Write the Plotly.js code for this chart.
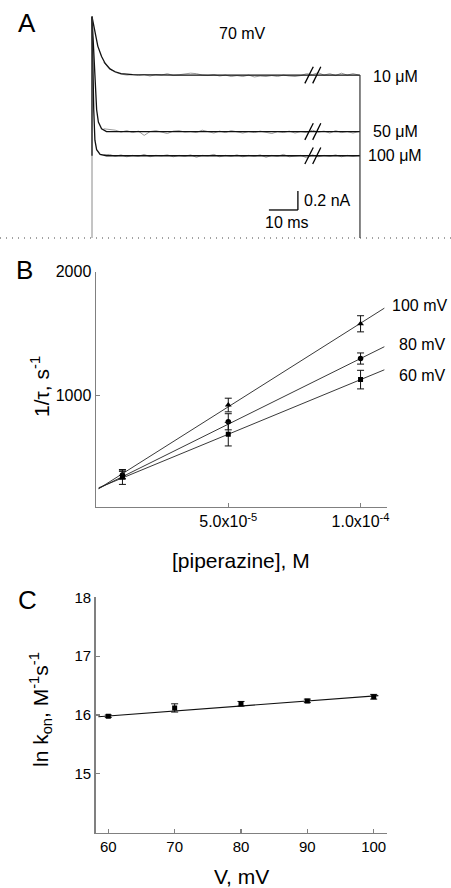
<!DOCTYPE html>
<html>
<head>
<meta charset="utf-8">
<script src="https://cdn.plot.ly/plotly-3.0.1.min.js"></script>
<style>html,body{margin:0;padding:0;background:#fff;}#chart{width:451px;height:888px;}</style>
</head>
<body>
<div id="chart"></div>
<script>
// ---------- Panel A: current traces at 70 mV (time in ms, offset current in nA) ----------
const concLabels = ["10 μM", "50 μM", "100 μM"];
const fitT10 = [0, 1, 2, 3.3, 4.5, 6.2, 8, 10, 14, 30, 60, 92.4];
const fitI10 = [2.33, 2.19, 2.02, 1.91, 1.84, 1.78, 1.75, 1.73, 1.72, 1.715, 1.715, 1.715];
const fitT50 = [0, 0.45, 1.0, 1.6, 2.2, 3.3, 5, 10, 92.4];
const fitI50 = [2.33, 2.05, 1.59, 1.35, 1.22, 1.15, 1.12, 1.12, 1.12];
const fitT100 = [0, 0.35, 0.6, 1.0, 1.6, 2.8, 5, 92.4];
const fitI100 = [2.33, 1.70, 1.35, 1.03, 0.93, 0.88, 0.866, 0.866];
const rawT = [4,6,8,10,12,14,16,18,20,22,24,26,28,30,32,34,36,38,40,42,44,46,48,50,52,54,56,58,60,62,64,66,68,70,72,74,76,78,80,82,84,86,88,90,92];
const raw10 = [1.85,1.78,1.745,1.725,1.715,1.72,1.71,1.72,1.705,1.72,1.715,1.73,1.71,1.72,1.725,1.735,1.73,1.715,1.71,1.72,1.705,1.715,1.70,1.71,1.70,1.715,1.695,1.705,1.70,1.71,1.70,1.715,1.705,1.70,1.71,1.73,1.72,1.74,1.715,1.73,1.71,1.735,1.715,1.73,1.715];
const raw50 = [1.15,1.14,1.135,1.115,1.13,1.11,1.125,1.08,1.12,1.13,1.115,1.10,1.125,1.13,1.115,1.12,1.11,1.135,1.12,1.105,1.125,1.11,1.13,1.115,1.105,1.12,1.11,1.125,1.115,1.10,1.12,1.11,1.125,1.105,1.12,1.11,1.135,1.115,1.125,1.105,1.13,1.11,1.12,1.105,1.12];
const raw100 = [0.875,0.88,0.86,0.875,0.855,0.87,0.86,0.88,0.855,0.87,0.865,0.875,0.855,0.87,0.86,0.875,0.85,0.87,0.865,0.88,0.855,0.87,0.86,0.875,0.855,0.87,0.86,0.875,0.85,0.87,0.86,0.88,0.855,0.865,0.87,0.845,0.875,0.855,0.87,0.86,0.875,0.855,0.87,0.86,0.87];
const pulseT = [0, 92.4];          // start and end of the pulse, ms
const scaleBarT = [61, 71];        // 10 ms
const scaleBarI = [0.295, 0.495];  // 0.2 nA

// ---------- Panel B: 1/tau vs [piperazine] ----------
const pipConc = [1e-5, 5e-5, 1e-4];
const voltLabelsB = ["100 mV", "80 mV", "60 mV"];
const rate100 = [365, 925, 1580];
const err100 = [35, 55, 65];
const rate80 = [360, 790, 1300];
const err80 = [30, 65, 45];
const rate60 = [345, 690, 1130];
const err60 = [60, 95, 75];
const fitConc = [1e-6, 1.09e-4];
const fit100 = [250, 1706];
const fit80 = [252, 1395];
const fit60 = [258, 1209];
const xTickValsB = [5e-5, 1e-4];
const xTickTextB = ["5.0x10<sup>-5</sup>", "1.0x10<sup>-4</sup>"];
const yTickValsB = [1000, 2000];

// ---------- Panel C: ln k_on vs V ----------
const voltC = [60, 70, 80, 90, 100];
const lnKon = [15.98, 16.12, 16.19, 16.24, 16.31];
const lnKonErr = [0.02, 0.07, 0.04, 0.03, 0.04];
const fitVC = [58.5, 100.7];
const fitLnC = [15.97, 16.33];
const xTickValsC = [60, 70, 80, 90, 100];
const yTickValsC = [15, 16, 17, 18];

// ---------- helpers: pixel -> paper ----------
const W = 451, H = 888;
const fx = px => px / W;
const fy = py => 1 - py / H;
const FONT = "Liberation Sans, Arial, sans-serif";

const traces = [];
// Panel A
[[raw10],[raw50],[raw100]].forEach(r => traces.push({x: rawT, y: r[0], xaxis:'x', yaxis:'y', mode:'lines', line:{color:'#9a9a9a', width:1}, hoverinfo:'skip', showlegend:false}));
[[fitT10,fitI10],[fitT50,fitI50],[fitT100,fitI100]].forEach(f => traces.push({x: f[0], y: f[1], xaxis:'x', yaxis:'y', mode:'lines', line:{color:'#111', width:1.3}, showlegend:false}));
traces.push({x:[pulseT[0],pulseT[0]], y:[0, fitI10[0]], xaxis:'x', yaxis:'y', mode:'lines', line:{color:'#8a8a8a', width:1}, showlegend:false});
traces.push({x:[pulseT[1],pulseT[1]], y:[0, fitI10[fitI10.length-1]], xaxis:'x', yaxis:'y', mode:'lines', line:{color:'#333', width:1.2}, showlegend:false});
traces.push({x:[pulseT[0],pulseT[0]], y:[fitI100[fitI100.length-1], fitI10[0]], xaxis:'x', yaxis:'y', mode:'lines', line:{color:'#111', width:1.2}, showlegend:false});

// Panel B
const eb = (arr) => ({type:'data', array:arr, visible:true, color:'#111', thickness:1, width:3.5});
traces.push({x:fitConc, y:fit100, xaxis:'x2', yaxis:'y2', mode:'lines', line:{color:'#222', width:0.9}, showlegend:false});
traces.push({x:fitConc, y:fit80, xaxis:'x2', yaxis:'y2', mode:'lines', line:{color:'#222', width:0.9}, showlegend:false});
traces.push({x:fitConc, y:fit60, xaxis:'x2', yaxis:'y2', mode:'lines', line:{color:'#222', width:0.9}, showlegend:false});
traces.push({x:pipConc, y:rate100, error_y:eb(err100), xaxis:'x2', yaxis:'y2', mode:'markers', marker:{symbol:'triangle-up', size:6, color:'#000'}, showlegend:false});
traces.push({x:pipConc, y:rate80, error_y:eb(err80), xaxis:'x2', yaxis:'y2', mode:'markers', marker:{symbol:'circle', size:5.5, color:'#000'}, showlegend:false});
traces.push({x:pipConc, y:rate60, error_y:eb(err60), xaxis:'x2', yaxis:'y2', mode:'markers', marker:{symbol:'square', size:5, color:'#000'}, showlegend:false});

// Panel C
traces.push({x:fitVC, y:fitLnC, xaxis:'x3', yaxis:'y3', mode:'lines', line:{color:'#111', width:1.2}, showlegend:false});
traces.push({x:voltC, y:lnKon, error_y:eb(lnKonErr), xaxis:'x3', yaxis:'y3', mode:'markers', marker:{symbol:'square', size:5, color:'#000'}, showlegend:false});

const axisStyle = {showline:true, linecolor:'#808080', linewidth:1.5, ticks:'inside', ticklen:4, tickcolor:'#808080', tickwidth:1.2, showgrid:false, zeroline:false, tickfont:{family:FONT, size:16, color:'#000'}, fixedrange:true};

// Panel A pixel mapping: t = (px-92)/2.9 ; I = (238-py)/95
const aXRange = [(0-92)/2.9, (451-92)/2.9];
const aYRange = [(238-250)/95, (238-0)/95];

const base10 = fitI10[fitI10.length-1], base50 = fitI50[fitI50.length-1], base100 = fitI100[fitI100.length-1];
const shapes = [];
[base10, base50, base100].forEach(b => {
  shapes.push({type:'line', xref:'x', yref:'y', x0:73.4, y0:b-0.0875, x1:76.3, y1:b+0.0875, line:{color:'#000', width:1.3}});
  shapes.push({type:'line', xref:'x', yref:'y', x0:76.1, y0:b-0.0875, x1:78.9, y1:b+0.0875, line:{color:'#000', width:1.3}});
});
shapes.push({type:'line', xref:'x', yref:'y', x0:scaleBarT[0], y0:scaleBarI[0], x1:scaleBarT[1], y1:scaleBarI[0], line:{color:'#000', width:1.3}});
shapes.push({type:'line', xref:'x', yref:'y', x0:scaleBarT[1], y0:scaleBarI[0], x1:scaleBarT[1], y1:scaleBarI[1], line:{color:'#000', width:1.3}});
shapes.push({type:'line', xref:'paper', yref:'y', x0:0, y0:0, x1:1, y1:0, line:{color:'#444', width:1, dash:'1px,5px'}});

const ann = (text, px, py, size, opts) => Object.assign({text:text, xref:'paper', yref:'paper', x:fx(px), y:fy(py), showarrow:false, font:{family:FONT, size:size, color:'#000'}, xanchor:'center', yanchor:'middle'}, opts||{});
const annotations = [
  ann('A', 27, 23, 26),
  ann('B', 24, 270, 26),
  ann('C', 27, 600, 26),
  ann('70 mV', 242, 33, 16),
  ann(concLabels[0], 371, 76, 16, {xanchor:'left'}),
  ann(concLabels[1], 371, 131, 16, {xanchor:'left'}),
  ann(concLabels[2], 366, 156, 16, {xanchor:'left'}),
  ann('0.2 nA', 302, 200, 16, {xanchor:'left'}),
  ann('10 ms', 287, 222, 16),
  ann(voltLabelsB[0], 390, 306, 16, {xanchor:'left'}),
  ann(voltLabelsB[1], 397, 344, 16, {xanchor:'left'}),
  ann(voltLabelsB[2], 397, 375, 16, {xanchor:'left'}),
  ann('1/τ, s<sup>-1</sup>', 40, 387, 21, {textangle:-90}),
  ann('[piperazine], M', 241, 560, 21),
  ann('ln k<sub>on</sub>, M<sup>-1</sup>s<sup>-1</sup>', 40, 710, 21, {textangle:-90}),
  ann('V, mV', 241, 876, 21)
];

const layout = {
  width: W, height: H,
  margin: {l:0, r:0, t:0, b:0, pad:0},
  paper_bgcolor:'#fff', plot_bgcolor:'rgba(0,0,0,0)',
  showlegend:false,
  font:{family:FONT, color:'#000'},
  xaxis: {domain:[0,1], range:aXRange, visible:false, fixedrange:true},
  yaxis: {domain:[fy(250),1], range:aYRange, visible:false, fixedrange:true},
  xaxis2: Object.assign({}, axisStyle, {domain:[fx(96), fx(387)], range:[0, 1.1e-4], anchor:'y2', tickmode:'array', tickvals:xTickValsB, ticktext:xTickTextB}),
  yaxis2: Object.assign({}, axisStyle, {domain:[fy(506.7), fy(271.7)], range:[105.2, 2000], anchor:'x2', tickmode:'array', tickvals:yTickValsB}),
  xaxis3: Object.assign({}, axisStyle, {domain:[fx(95.7), fx(386.7)], range:[58.1, 101.96], anchor:'y3', tickmode:'array', tickvals:xTickValsC, tickfont:{family:FONT, size:15, color:'#000'}}),
  yaxis3: Object.assign({}, axisStyle, {domain:[fy(832.7), fy(597.3)], range:[14, 18], anchor:'x3', tickmode:'array', tickvals:yTickValsC, tickfont:{family:FONT, size:15, color:'#000'}}),
  shapes: shapes,
  annotations: annotations
};

Plotly.newPlot('chart', traces, layout, {displayModeBar:false, staticPlot:true});
</script>
</body>
</html>
